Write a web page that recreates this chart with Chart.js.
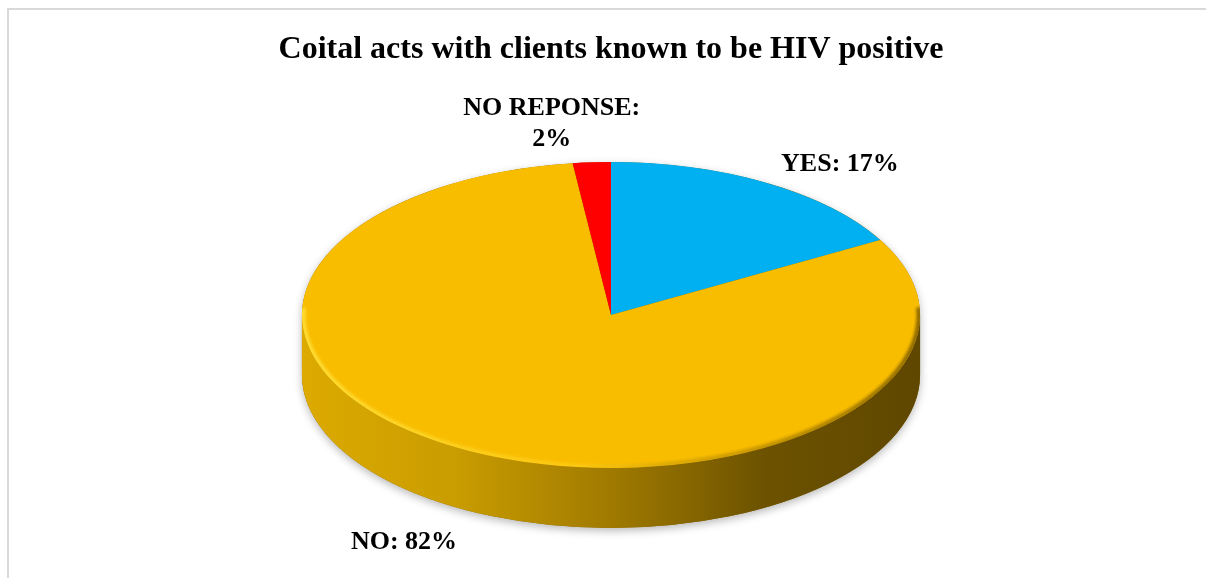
<!DOCTYPE html>
<html>
<head>
<meta charset="utf-8">
<script src="https://cdn.jsdelivr.net/npm/chart.js@4.4.1/dist/chart.umd.min.js"></script>
<style>
  html, body { margin: 0; padding: 0; background: #fff; overflow: hidden; }
  #frame {
    position: absolute; left: 7px; top: 8px; width: 1400px; height: 800px;
    border-left: 2px solid #d9d9d9; border-top: 2px solid #d9d9d9;
  }
  #myChart { position: absolute; left: 0; top: 0; }
</style>
</head>
<body>
<div id="frame"></div>
<canvas id="myChart" width="1206" height="578"></canvas>
<script>
const categories = ['YES', 'NO', 'NO REPONSE'];
const percentValues = [17, 82, 2];
const sliceColors = ['#00b0f0', '#f9bd00', '#ff0000'];

// look of the tilted pie
const stretchX = 2.02;   // ellipse width / height
const depth = 60;        // thickness of the side wall
const labelOffsets = [[73, -19], [-68, 31], [-40, -39]];

const pie3d = {
    id: 'pie3d',
    beforeDatasetsDraw(chart) {
        const ctx = chart.ctx;
        const arc = chart.getDatasetMeta(0).data[0];
        const cx = arc.x, cy = arc.y, ry = arc.outerRadius, rx = ry * stretchX;

        // soft shadow under the whole disc
        ctx.save();
        ctx.shadowColor = 'rgba(0,0,0,0.28)';
        ctx.shadowBlur = 9;
        ctx.shadowOffsetY = 3;
        ctx.beginPath();
        ctx.ellipse(cx, cy, rx, ry, 0, Math.PI, 0);
        ctx.lineTo(cx + rx, cy + depth);
        ctx.ellipse(cx, cy + depth, rx, ry, 0, 0, Math.PI);
        ctx.closePath();
        ctx.fillStyle = '#8a6800';
        ctx.fill();
        ctx.restore();

        // side wall (front half is all the NO slice)
        const grad = ctx.createLinearGradient(cx - rx, 0, cx + rx, 0);
        grad.addColorStop(0, '#dcaa00');
        grad.addColorStop(0.25, '#c99c00');
        grad.addColorStop(0.5, '#a07a00');
        grad.addColorStop(0.75, '#6c5200');
        grad.addColorStop(1, '#5f4700');
        ctx.save();
        ctx.beginPath();
        ctx.ellipse(cx, cy, rx, ry, 0, 0, Math.PI);
        ctx.lineTo(cx - rx, cy + depth);
        ctx.ellipse(cx, cy + depth, rx, ry, 0, Math.PI, 0, true);
        ctx.closePath();
        ctx.fillStyle = grad;
        ctx.fill();
        ctx.restore();

        // squash the flat pie into an ellipse
        ctx.save();
        ctx.translate(cx, cy);
        ctx.scale(stretchX, 1);
        ctx.translate(-cx, -cy);
    },
    afterDatasetsDraw(chart) {
        const ctx = chart.ctx;
        ctx.restore();
        const arc = chart.getDatasetMeta(0).data[0];
        const cx = arc.x, cy = arc.y, ry = arc.outerRadius, rx = ry * stretchX;

        // bevel on the rim of the top face
        ctx.save();
        ctx.beginPath();
        ctx.ellipse(cx, cy, rx, ry, 0, 0, Math.PI * 2);
        ctx.clip();
        const rim = ctx.createLinearGradient(cx - rx, 0, cx + rx, 0);
        rim.addColorStop(0, 'rgba(255,225,60,0.9)');
        rim.addColorStop(0.45, 'rgba(255,215,40,0.45)');
        rim.addColorStop(0.7, 'rgba(120,90,0,0.35)');
        rim.addColorStop(1, 'rgba(90,65,0,0.7)');
        ctx.strokeStyle = rim;
        ctx.lineWidth = 5;
        ctx.filter = 'blur(1.5px)';
        ctx.beginPath();
        ctx.ellipse(cx, cy, rx - 1, ry - 1, 0, -0.05, Math.PI + 0.05);
        ctx.stroke();
        ctx.restore();
    },
    afterDraw(chart) {
        const ctx = chart.ctx;
        const meta = chart.getDatasetMeta(0);
        ctx.save();
        ctx.fillStyle = '#000';
        ctx.font = 'bold 26px "Liberation Serif", "Times New Roman", serif';
        ctx.textAlign = 'center';
        ctx.textBaseline = 'middle';
        meta.data.forEach((el, i) => {
            const a = (el.startAngle + el.endAngle) / 2;
            const ry = el.outerRadius, rx = ry * stretchX;
            let x = el.x + Math.cos(a) * rx;
            let y = el.y + Math.sin(a) * ry;
            if (Math.sin(a) > 0) y += depth;
            x += labelOffsets[i][0];
            y += labelOffsets[i][1];
            const full = categories[i] + ': ' + percentValues[i] + '%';
            if (ctx.measureText(full).width > 200) {
                ctx.fillText(categories[i] + ':', x, y - 15.5);
                ctx.fillText(percentValues[i] + '%', x, y + 15.5);
            } else {
                ctx.fillText(full, x, y);
            }
        });
        ctx.restore();
    }
};

var ctx = document.getElementById('myChart').getContext('2d');
var myChart = new Chart(ctx, {
    type: 'pie',
    data: {
        labels: categories,
        datasets: [{
            data: percentValues,
            backgroundColor: sliceColors,
            borderWidth: 0,
            hoverOffset: 0,
            offset: 0
        }]
    },
    options: {
        responsive: false,
        animation: false,
        events: [],
        layout: {
            padding: { left: 16, right: 0, top: 0, bottom: 110 }
        },
        plugins: {
            legend: { display: false },
            tooltip: { enabled: false },
            title: {
                display: true,
                text: 'Coital acts with clients known to be HIV positive',
                color: '#000',
                font: { family: '"Liberation Serif", "Times New Roman", serif', size: 32, weight: 'bold', lineHeight: 1.2 },
                padding: { top: 31, bottom: 92.6 }
            }
        }
    },
    plugins: [pie3d]
});
</script>
</body>
</html>
